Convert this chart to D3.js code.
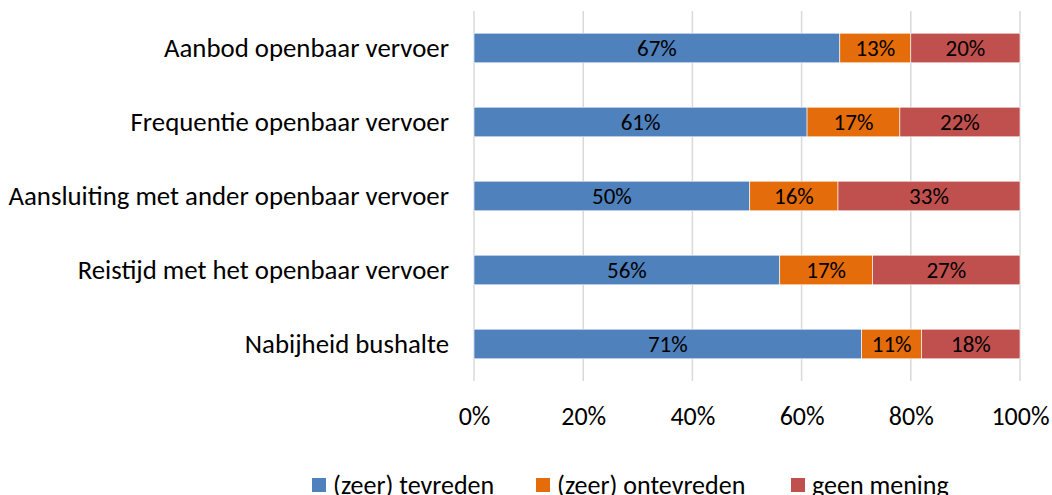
<!DOCTYPE html>
<html>
<head>
<meta charset="utf-8">
<script src="https://cdn.jsdelivr.net/npm/d3@7"></script>
<style>
  body { margin: 0; background: #fff; }
  text { font-family: Calibri, Carlito, Lato, "Open Sans", sans-serif; }
</style>
</head>
<body>
<div id="chart"></div>
<script>
var categories = ["Aanbod openbaar vervoer", "Frequentie openbaar vervoer",
                  "Aansluiting met ander openbaar vervoer", "Reistijd met het openbaar vervoer",
                  "Nabijheid bushalte"];
var seriesNames = ["(zeer) tevreden", "(zeer) ontevreden", "geen mening"];
var tevreden = [67, 61, 50, 56, 71];
var ontevreden = [13, 17, 16, 17, 11];
var geenMening = [20, 22, 33, 27, 18];
var tickValues = [0, 0.2, 0.4, 0.6, 0.8, 1];
var colors = ["#4F81BD", "#E46C0A", "#C0504D"];

var width = 1052, height = 495;
var margin = { top: 11, left: 474, right: 32, bottom: 114 };

var svg = d3.select('#chart').append('svg')
    .attr('width', width)
    .attr('height', height);

var rows = categories.map(function (c, i) {
    var vals = [tevreden[i], ontevreden[i], geenMening[i]];
    var total = d3.sum(vals);
    var acc = 0;
    return vals.map(function (v, k) {
        var seg = { cat: c, key: k, value: v, x0: acc / total, x1: (acc + v) / total };
        acc += v;
        return seg;
    });
});

var x = d3.scaleLinear().domain([0, 1]).range([margin.left, width - margin.right]);
var y = d3.scaleBand().domain(categories)
    .range([margin.top, height - margin.bottom])
    .paddingInner(0.6).paddingOuter(0.3);

// gridlines
svg.append('g').selectAll('line')
    .data(tickValues)
    .enter().append('line')
    .attr('x1', d => x(d)).attr('x2', d => x(d))
    .attr('y1', margin.top).attr('y2', height - margin.bottom)
    .attr('stroke', '#d9d9d9')
    .attr('stroke-width', 1.5);

// x axis labels
var xAxis = d3.axisBottom(x).tickValues(tickValues).tickFormat(d3.format('.0%')).tickSize(0);
var gx = svg.append('g')
    .attr('transform', 'translate(0,' + (height - margin.bottom) + ')')
    .call(xAxis);
gx.select('.domain').remove();
gx.selectAll('text')
    .attr('y', 44).attr('dy', 0)
    .style('font-size', '26px')
    .attr('fill', '#000');

// category labels
var yAxis = d3.axisLeft(y).tickSize(0).tickPadding(25);
var gy = svg.append('g')
    .attr('transform', 'translate(' + margin.left + ',0)')
    .call(yAxis);
gy.select('.domain').remove();
gy.selectAll('text')
    .style('font-size', '26.8px')
    .attr('fill', '#000');

// bars
var segs = rows.flat();
svg.append('g').selectAll('rect')
    .data(segs)
    .enter().append('rect')
    .attr('x', d => x(d.x0))
    .attr('width', d => x(d.x1) - x(d.x0))
    .attr('y', d => y(d.cat))
    .attr('height', y.bandwidth())
    .attr('fill', d => colors[d.key])
    .attr('stroke', '#fff')
    .attr('stroke-width', 0.6);

svg.append('g').selectAll('text')
    .data(segs)
    .enter().append('text')
    .attr('x', d => (x(d.x0) + x(d.x1)) / 2)
    .attr('y', d => y(d.cat) + y.bandwidth() / 2)
    .attr('dy', '0.36em')
    .attr('text-anchor', 'middle')
    .style('font-size', '23px')
    .attr('fill', '#000')
    .text(d => d.value + '%');

// legend
var legendX = [312, 536, 791];
var legend = svg.append('g').selectAll('g')
    .data(seriesNames)
    .enter().append('g')
    .attr('transform', (d, i) => 'translate(' + legendX[i] + ',' + 478 + ')');
legend.append('rect')
    .attr('width', 14).attr('height', 14)
    .attr('fill', (d, i) => colors[i]);
legend.append('text')
    .attr('x', 21).attr('y', 7).attr('dy', '0.33em')
    .style('font-size', '26px')
    .attr('fill', '#000')
    .text(d => d);
</script>
</body>
</html>
